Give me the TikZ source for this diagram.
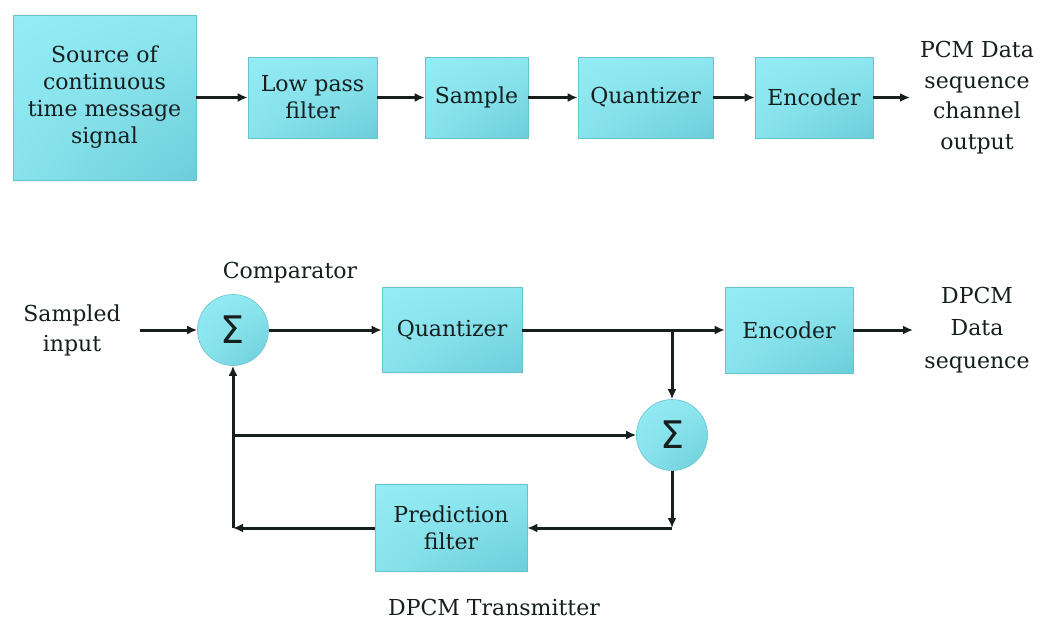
\documentclass[tikz,border=0pt]{standalone}
\usepackage{fontspec}
\setmainfont{DejaVu Serif}
\newfontfamily\symfont{DejaVu Sans}
\usetikzlibrary{arrows.meta,shadings}
\definecolor{boxlight}{HTML}{94ECF4}
\definecolor{boxdark}{HTML}{6CCDD9}
\definecolor{boxedge}{HTML}{66C4CF}
\definecolor{ink}{HTML}{161E1E}
\tikzset{
  blk/.style={draw=boxedge, line width=0.6pt,
    upper left=boxlight, upper right=boxlight!85!boxdark,
    lower left=boxlight!70!boxdark, lower right=boxdark,
    align=center, inner sep=0pt, text=ink,
    font=\fontsize{22}{27}\selectfont},
  sumnode/.style={circle, draw=boxedge, line width=0.6pt,
    upper left=boxlight, upper right=boxlight!85!boxdark,
    lower left=boxlight!70!boxdark, lower right=boxdark,
    minimum size=71pt, inner sep=0pt, text=ink,
    font=\symfont\fontsize{38}{38}\selectfont},
  lbl/.style={align=center, text=ink, inner sep=0pt,
    font=\fontsize{22}{30.5}\selectfont},
  arr/.style={draw=ink, line width=3pt, -{Latex[length=10pt,width=9pt]}},
  wire/.style={draw=ink, line width=3pt}
}
\begin{document}
\begin{tikzpicture}[x=1pt,y=-1pt]
\useasboundingbox[fill=white] (0,0) rectangle (1040,621);

% PCM chain
\node[blk, minimum width=183pt, minimum height=165pt] (src) at (104.5,97.5)
  {Source of\\continuous\\time message\\signal};
\node[blk, minimum width=129pt, minimum height=81pt] (lpf) at (312.5,97.5)
  {Low pass\\filter};
\node[blk, minimum width=103pt, minimum height=81pt] (smp) at (476.5,97.5)
  {Sample};
\node[blk, minimum width=135pt, minimum height=81pt] (qz) at (645.5,97.5)
  {Quantizer};
\node[blk, minimum width=118pt, minimum height=81pt] (enc) at (814,97.5)
  {Encoder};
\node[lbl] (pcm) at (977,97.5) {PCM Data\\sequence\\channel\\output};
\coordinate (pcmin) at (910,97.5);

\draw[arr] (src.east) -- (lpf.west);
\draw[arr] (lpf.east) -- (smp.west);
\draw[arr] (smp.east) -- (qz.west);
\draw[arr] (qz.east) -- (enc.west);
\draw[arr] (enc.east) -- (pcmin);

% DPCM transmitter
\node[lbl, font=\fontsize{22}{30}\selectfont] (sin) at (72,330) {Sampled\\input};
\coordinate (inpt) at (140,330);
\node[sumnode] (cmp) at (233,330) {Σ};
\node[lbl] (cmplbl) at (290,273) {Comparator};
\node[blk, minimum width=140pt, minimum height=85pt] (q2) at (452,330)
  {Quantizer};
\node[blk, minimum width=128pt, minimum height=86pt] (enc2) at (789,330)
  {Encoder};
\node[lbl, font=\fontsize{22}{32.5}\selectfont] (dpcm) at (977,330)
  {DPCM\\Data\\sequence};
\coordinate (dpcmin) at (913,330);
\node[sumnode] (sig2) at (672,435) {Σ};
\node[blk, minimum width=152pt, minimum height=87pt] (pf) at (451,528)
  {Prediction\\filter};
\node[lbl] (tx) at (494,607) {DPCM Transmitter};

\coordinate (br) at (672,330);
\coordinate (rc) at (672,528);
\coordinate (lc) at (233,528);
\coordinate (mid) at (233,435);

\draw[arr] (inpt) -- (cmp.west);
\draw[arr] (cmp.east) -- (q2.west);
\draw[wire] (q2.east) -- (br);
\draw[arr] (br) -- (enc2.west);
\draw[arr] (enc2.east) -- (dpcmin);
\draw[arr] (br) -- (sig2.north);
\draw[arr] (sig2.south) -- (rc);
\draw[arr] (rc) -- (pf.east);
\draw[arr] (pf.west) -- (lc);
\draw[arr] (lc) -- (cmp.south);
\draw[arr] (mid) -- (sig2.west);
\end{tikzpicture}
\end{document}
